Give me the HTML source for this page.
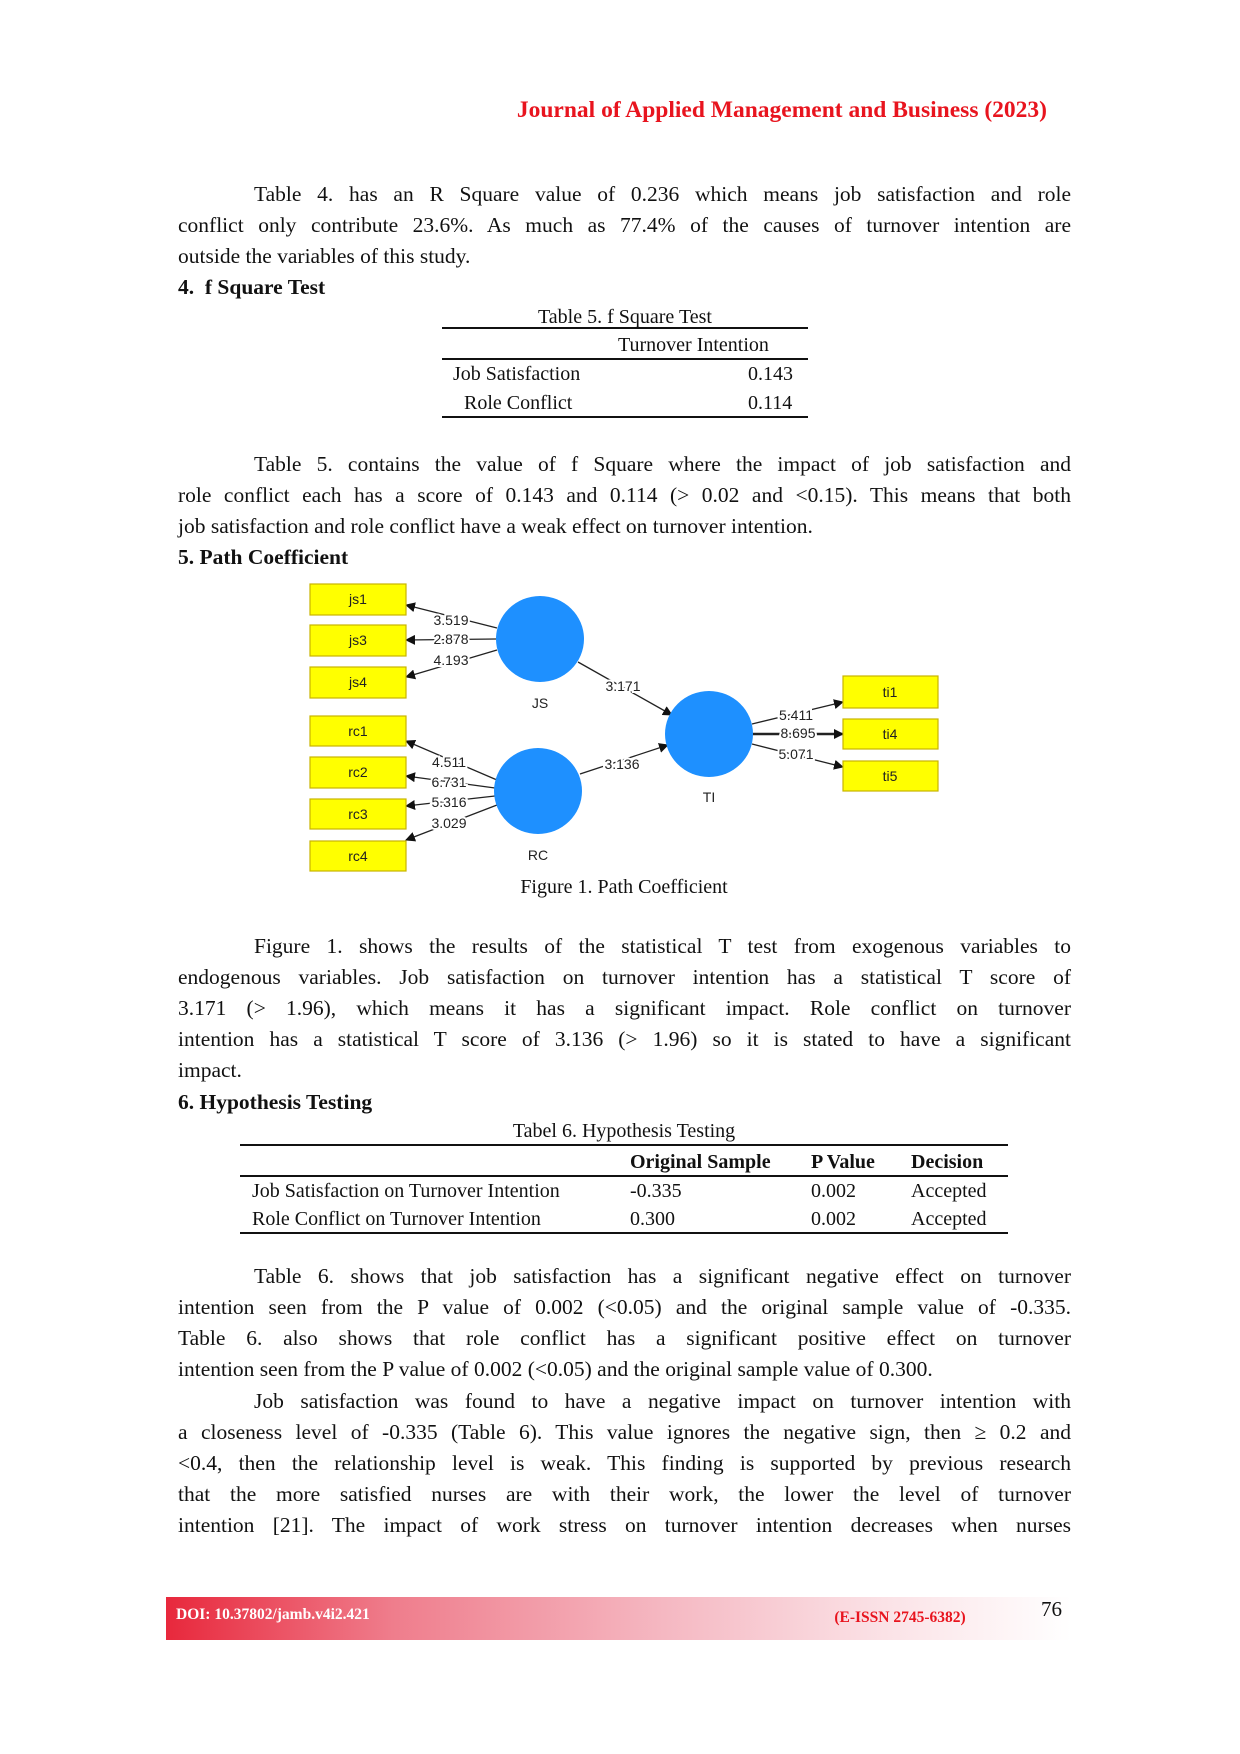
<!DOCTYPE html>
<html><head><meta charset="utf-8">
<style>
*{margin:0;padding:0;box-sizing:border-box}
body{width:1240px;height:1754px;background:#fff;position:relative;overflow:hidden;font-family:"Liberation Serif",serif;color:#111}
.a{position:absolute;white-space:nowrap;line-height:30px;font-size:21.5px}
.j{position:absolute;left:178px;width:893px;line-height:30px;font-size:21.5px;text-align:justify;text-align-last:justify;white-space:nowrap}
.i{left:254px;width:817px}
.h{font-weight:bold}
.hr{position:absolute;height:1.5px;background:#111}
.sm{font-size:20px}
</style></head><body>
<div class="a h" style="left:440px;top:95px;color:#e8141e;font-size:23.5px;width:607px;text-align:right">Journal of Applied Management and Business (2023)</div>

<div class="j i" style="top:179px">Table 4. has an R Square value of 0.236 which means job satisfaction and role</div>
<div class="j" style="top:210px">conflict only contribute 23.6%. As much as 77.4% of the causes of turnover intention are</div>
<div class="a" style="left:178px;top:241px">outside the variables of this study.</div>
<div class="a h" style="left:178px;top:272px">4.&nbsp; f Square Test</div>

<div class="a sm" style="left:442px;width:366px;text-align:center;top:302px">Table 5. f Square Test</div>
<div class="hr" style="left:442px;width:366px;top:327px"></div>
<div class="a sm" style="left:618px;top:330px">Turnover Intention</div>
<div class="hr" style="left:442px;width:366px;top:358px"></div>
<div class="a sm" style="left:453px;top:359px">Job Satisfaction</div>
<div class="a sm" style="left:748px;top:359px">0.143</div>
<div class="a sm" style="left:464px;top:388px">Role Conflict</div>
<div class="a sm" style="left:748px;top:388px">0.114</div>
<div class="hr" style="left:442px;width:366px;top:416px"></div>

<div class="j i" style="top:449px">Table 5. contains the value of f Square where the impact of job satisfaction and</div>
<div class="j" style="top:480px">role conflict each has a score of 0.143 and 0.114 (&gt; 0.02 and &lt;0.15). This means that both</div>
<div class="a" style="left:178px;top:511px">job satisfaction and role conflict have a weak effect on turnover intention.</div>
<div class="a h" style="left:178px;top:542px">5. Path Coefficient</div>

<svg style="position:absolute;left:0;top:0" width="1240" height="1000" font-family="Liberation Sans, sans-serif">
<defs><marker id="m" markerWidth="10" markerHeight="10" refX="9" refY="5" orient="auto" markerUnits="userSpaceOnUse"><path d="M0,0 L10,5 L0,10 z" fill="#111"/></marker></defs>
<g stroke="#222" stroke-width="1.3" fill="none" marker-end="url(#m)">
<line x1="497" y1="628" x2="406" y2="605"/>
<line x1="496" y1="639" x2="406" y2="640"/>
<line x1="497" y1="650" x2="406" y2="677"/>
<line x1="578" y1="662" x2="672" y2="715"/>
<line x1="497" y1="780" x2="406" y2="741"/>
<line x1="495" y1="788" x2="406" y2="776"/>
<line x1="495" y1="796" x2="406" y2="806"/>
<line x1="497" y1="805" x2="406" y2="840"/>
<line x1="580" y1="774" x2="668" y2="745"/>
<line x1="752" y1="724" x2="843" y2="702"/>
<line x1="753" y1="734" x2="843" y2="734" stroke-width="2.5"/>
<line x1="752" y1="744" x2="843" y2="767"/>
</g>
<ellipse cx="540" cy="639" rx="44" ry="43" fill="#1e90ff"/>
<ellipse cx="538" cy="791" rx="44" ry="43" fill="#1e90ff"/>
<ellipse cx="709" cy="734" rx="44" ry="43" fill="#1e90ff"/>
<g fill="#ffff00" stroke="#c8b400" stroke-width="1.2">
<rect x="310" y="584" width="96" height="31"/><rect x="310" y="625" width="96" height="31"/><rect x="310" y="667" width="96" height="31"/>
<rect x="310" y="716" width="96" height="30"/><rect x="310" y="757" width="96" height="31"/><rect x="310" y="799" width="96" height="30"/><rect x="310" y="841" width="96" height="30"/>
<rect x="843" y="676" width="95" height="32"/><rect x="843" y="719" width="95" height="30"/><rect x="843" y="761" width="95" height="30"/>
</g>
<g font-size="14" fill="#222" text-anchor="middle">
<text x="358" y="604">js1</text><text x="358" y="645">js3</text><text x="358" y="687">js4</text>
<text x="358" y="736">rc1</text><text x="358" y="777">rc2</text><text x="358" y="819">rc3</text><text x="358" y="861">rc4</text>
<text x="890" y="697">ti1</text><text x="890" y="739">ti4</text><text x="890" y="781">ti5</text>
<text x="540" y="708">JS</text><text x="538" y="860">RC</text><text x="709" y="802">TI</text>
</g>
<g font-size="14" fill="#222" text-anchor="middle" stroke="#fff" stroke-width="4" paint-order="stroke">
<text x="451" y="625">3.519</text><text x="451" y="644">2.878</text><text x="451" y="665">4.193</text>
<text x="623" y="691">3.171</text>
<text x="449" y="767">4.511</text><text x="449" y="787">6.731</text><text x="449" y="807">5.316</text><text x="449" y="828">3.029</text>
<text x="622" y="769">3.136</text>
<text x="796" y="720">5.411</text><text x="798" y="738">8.695</text><text x="796" y="759">5.071</text>
</g>
</svg>
<div class="a sm" style="left:424px;width:400px;text-align:center;top:872px">Figure 1. Path Coefficient</div>

<div class="j i" style="top:931px">Figure 1. shows the results of the statistical T test from exogenous variables to</div>
<div class="j" style="top:962px">endogenous variables. Job satisfaction on turnover intention has a statistical T score of</div>
<div class="j" style="top:993px">3.171 (&gt; 1.96), which means it has a significant impact. Role conflict on turnover</div>
<div class="j" style="top:1024px">intention has a statistical T score of 3.136 (&gt; 1.96) so it is stated to have a significant</div>
<div class="a" style="left:178px;top:1055px">impact.</div>
<div class="a h" style="left:178px;top:1087px">6. Hypothesis Testing</div>

<div class="a sm" style="left:424px;width:400px;text-align:center;top:1116px">Tabel 6. Hypothesis Testing</div>
<div class="hr" style="left:240px;width:768px;top:1144px"></div>
<div class="a sm h" style="left:630px;top:1147px">Original Sample</div>
<div class="a sm h" style="left:811px;top:1147px">P Value</div>
<div class="a sm h" style="left:911px;top:1147px">Decision</div>
<div class="hr" style="left:240px;width:768px;top:1175px"></div>
<div class="a sm" style="left:252px;top:1176px">Job Satisfaction on Turnover Intention</div>
<div class="a sm" style="left:630px;top:1176px">-0.335</div>
<div class="a sm" style="left:811px;top:1176px">0.002</div>
<div class="a sm" style="left:911px;top:1176px">Accepted</div>
<div class="a sm" style="left:252px;top:1204px">Role Conflict on Turnover Intention</div>
<div class="a sm" style="left:630px;top:1204px">0.300</div>
<div class="a sm" style="left:811px;top:1204px">0.002</div>
<div class="a sm" style="left:911px;top:1204px">Accepted</div>
<div class="hr" style="left:240px;width:768px;top:1232px"></div>

<div class="j i" style="top:1261px">Table 6. shows that job satisfaction has a significant negative effect on turnover</div>
<div class="j" style="top:1292px">intention seen from the P value of 0.002 (&lt;0.05) and the original sample value of -0.335.</div>
<div class="j" style="top:1323px">Table 6. also shows that role conflict has a significant positive effect on turnover</div>
<div class="a" style="left:178px;top:1354px">intention seen from the P value of 0.002 (&lt;0.05) and the original sample value of 0.300.</div>
<div class="j i" style="top:1386px">Job satisfaction was found to have a negative impact on turnover intention with</div>
<div class="j" style="top:1417px">a closeness level of -0.335 (Table 6). This value ignores the negative sign, then ≥ 0.2 and</div>
<div class="j" style="top:1448px">&lt;0.4, then the relationship level is weak. This finding is supported by previous research</div>
<div class="j" style="top:1479px">that the more satisfied nurses are with their work, the lower the level of turnover</div>
<div class="j" style="top:1510px">intention [21]. The impact of work stress on turnover intention decreases when nurses</div>

<div style="position:absolute;left:166px;top:1597px;width:905px;height:43px;background:linear-gradient(90deg,#e8283c 0%,#ef7d8c 25%,#f5b8c2 55%,#fbe3e7 80%,#fff 100%)"></div>
<div class="a h" style="left:176px;top:1600px;color:#fff;font-size:15.5px">DOI: 10.37802/jamb.v4i2.421</div>
<div class="a h" style="left:800px;width:200px;text-align:center;top:1603px;color:#e8141e;font-size:15.5px">(E-ISSN 2745-6382)</div>
<div class="a" style="left:1041px;top:1594px;font-size:21px">76</div>
</body></html>
